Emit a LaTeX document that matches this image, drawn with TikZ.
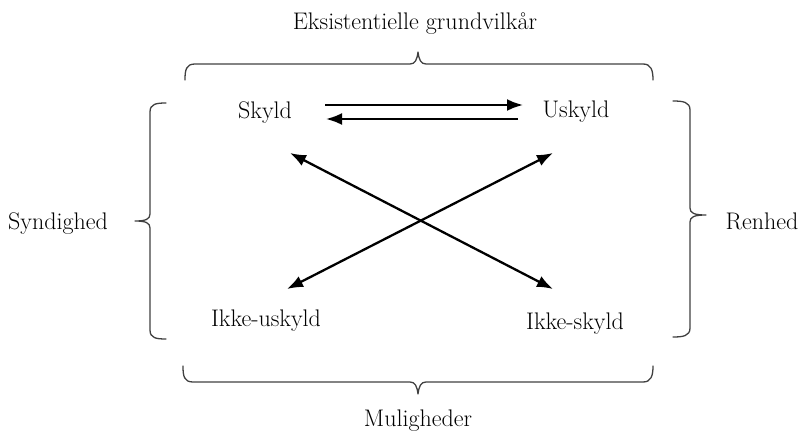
\documentclass[tikz,border=0pt]{standalone}
\usetikzlibrary{arrows.meta}
\begin{document}
\begin{tikzpicture}[x=1pt,y=-1pt,
  lbl/.style={font=\fontsize{24}{26}\selectfont, inner sep=0pt, anchor=base, text=black},
  brace/.style={draw=black!75, line width=1.3pt, line cap=round, line join=round},
  tip/.tip={Latex[length=16pt,width=12pt]},
  arr/.style={draw=black, line width=2.3pt, -tip},
  dbl/.style={draw=black, line width=2.3pt, tip-tip}]
  \useasboundingbox (0,0) rectangle (801,431);

  % labels of the four states (placed on their baselines)
  \node[lbl] (skyld)  at (265,118) {Skyld};
  \node[lbl] (uskyld) at (576,117) {Uskyld};
  \node[lbl] (ikkeu)  at (266,326) {Ikke-uskyld};
  \node[lbl] (ikkes)  at (575,329) {Ikke-skyld};

  % group labels
  \node[lbl] (top)   at (415,30)  {Eksistentielle grundvilkår};
  \node[lbl] (bot)   at (418,426) {Muligheder};
  \node[lbl] (left)  at (58,229)  {Syndighed};
  \node[lbl] (right) at (762,229) {Renhed};

  % ends of the diagonal arrows
  \coordinate (dA) at (290,153);
  \coordinate (dB) at (553,289);
  \coordinate (dC) at (553,153);
  \coordinate (dD) at (287,289);

  % horizontal pair between Skyld and Uskyld
  \coordinate (hA) at (325,105);
  \coordinate (hB) at (523,105);
  \coordinate (hC) at (518,119);
  \coordinate (hD) at (326,119);
  \draw[arr] (hA) -- (hB);
  \draw[arr] (hC) -- (hD);

  % crossing arrows
  \draw[dbl] (dA) -- (dB);
  \draw[dbl] (dC) -- (dD);

  % top brace
  \draw[brace] (185,80) .. controls (185,70) and (186,64) .. (195,64)
    -- (410,64) .. controls (415,64) and (417,60) .. (418,52)
    .. controls (419,60) and (421,64) .. (426,64)
    -- (643,64) .. controls (651,64) and (653,70) .. (653,80);
  % bottom brace
  \draw[brace] (183,366) .. controls (183,376) and (184,382) .. (193,382)
    -- (410,382) .. controls (415,382) and (417,386) .. (418,394)
    .. controls (419,386) and (421,382) .. (426,382)
    -- (643,382) .. controls (651,382) and (653,376) .. (653,366);
  % left brace
  \draw[brace] (166,103) .. controls (156,103) and (150,104) .. (150,112)
    -- (150,214) .. controls (150,219) and (146,221) .. (135,221)
    .. controls (146,221) and (150,223) .. (150,228)
    -- (150,330) .. controls (150,338) and (156,339) .. (166,339);
  % right brace
  \draw[brace] (673,101) .. controls (683,101) and (690,102) .. (690,110)
    -- (690,208) .. controls (690,213) and (694,215) .. (706,215)
    .. controls (694,215) and (690,217) .. (690,222)
    -- (690,328) .. controls (690,336) and (683,337) .. (673,337);
\end{tikzpicture}
\end{document}
